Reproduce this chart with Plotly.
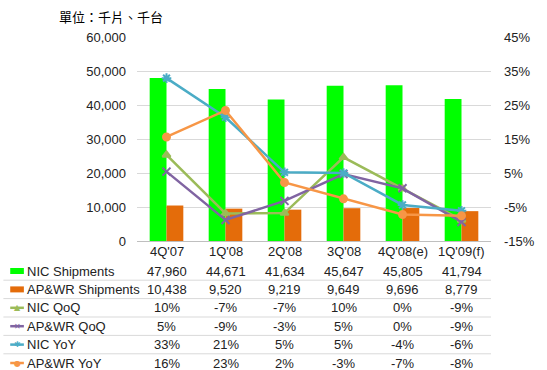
import plotly.graph_objects as go

categories = ["4Q'07", "1Q'08", "2Q'08", "3Q'08", "4Q'08(e)", "1Q'09(f)"]
nic_ship = [47960, 44671, 41634, 45647, 45805, 41794]
apwr_ship = [10438, 9520, 9219, 9649, 9696, 8779]
nic_qoq = [10.3, -6.9, -6.8, 9.6, 0.4, -8.8]
apwr_qoq = [5.4, -8.8, -3.2, 4.7, 0.5, -9.4]
nic_yoy = [32.9, 21.4, 5.2, 5.0, -4.4, -6.1]
apwr_yoy = [15.6, 23.4, 2.2, -2.6, -7.2, -7.6]

left_ticks = [0, 10000, 20000, 30000, 40000, 50000, 60000]
right_ticks = [-15, -5, 5, 15, 25, 35, 45]

W, H = 547, 370
L, R, T, B = 137, 47, 37, 129
PW, PH = W - L - R, H - T - B

def px(x):
    return (x - L) / PW

def py(y):
    return (H - B - y) / PH

FONT = "Liberation Sans, Arial, sans-serif"
GREEN = "#00FF00"
ORANGE_BAR = "#E46C0A"
C_NQ = "#9BBB59"
C_AQ = "#8064A2"
C_NY = "#4BACC6"
C_AY = "#F79646"
TXT = "#222222"

fig = go.Figure()
fig.add_trace(go.Bar(x=categories, y=nic_ship, name="NIC Shipments",
                     marker=dict(color=GREEN, line=dict(width=0))))
fig.add_trace(go.Bar(x=categories, y=apwr_ship, name="AP&WR Shipments",
                     marker=dict(color=ORANGE_BAR, line=dict(width=0))))

line_series = [
    ("NIC QoQ", nic_qoq, C_NQ, "triangle-up", 7),
    ("AP&WR QoQ", apwr_qoq, C_AQ, "x-thin-open", 8),
    ("NIC YoY", nic_yoy, C_NY, "asterisk-open", 8),
    ("AP&WR YoY", apwr_yoy, C_AY, "circle", 7),
]
for name, vals, col, sym, sz in line_series:
    fig.add_trace(go.Scatter(x=categories, y=vals, name=name, yaxis="y2",
                             mode="lines+markers",
                             line=dict(color=col, width=2.5),
                             marker=dict(symbol=sym, size=sz, color=col,
                                         line=dict(color=col, width=2))))

fig.update_layout(
    width=W, height=H,
    margin=dict(l=L, r=R, t=T, b=B, pad=0),
    paper_bgcolor="white", plot_bgcolor="white",
    showlegend=False,
    barmode="group", bargap=0.43, bargroupgap=0,
    font=dict(family=FONT, size=13, color=TXT),
    xaxis=dict(type="category", showgrid=False, showline=True,
               linecolor="#BFBFBF", linewidth=1, ticks="",
               showticklabels=False),
    yaxis=dict(range=[0, 60000], tickvals=left_ticks, tickformat=",",
               showgrid=True, gridcolor="#D9D9D9", gridwidth=1,
               zeroline=False, showline=False, ticks="",
               ticklabelstandoff=10,
               tickfont=dict(size=13, color=TXT)),
    yaxis2=dict(range=[-15, 45], tickvals=right_ticks,
                ticktext=[f"{v}%" for v in right_ticks],
                overlaying="y", side="right", showgrid=False,
                zeroline=False, showline=False, ticks="",
                ticklabelstandoff=12,
                tickfont=dict(size=13, color=TXT)),
)

# title
fig.add_annotation(text="單位：千片、千台", xref="paper", yref="paper",
                   x=px(55), y=py(17), xanchor="left", yanchor="middle",
                   showarrow=False,
                   font=dict(family="Noto Sans CJK TC", size=13, color="#000000"))

# category labels
for c in categories:
    fig.add_annotation(text=c, xref="x", yref="paper", x=c, y=py(251),
                       xanchor="center", yanchor="middle", showarrow=False,
                       font=dict(size=13, color=TXT))

# data table
row_labels = ["NIC Shipments", "AP&WR Shipments", "NIC QoQ", "AP&WR QoQ",
              "NIC YoY", "AP&WR YoY"]
row_vals = [
    [f"{v:,}" for v in nic_ship],
    [f"{v:,}" for v in apwr_ship],
    [f"{round(v)}%" for v in nic_qoq],
    [f"{round(v)}%" for v in apwr_qoq],
    [f"{round(v)}%" for v in nic_yoy],
    [f"{round(v)}%" for v in apwr_yoy],
]
row_y0 = 271
row_h = 18.4
for i, (lab, vals) in enumerate(zip(row_labels, row_vals)):
    yc = row_y0 + i * row_h
    fig.add_annotation(text=lab, xref="paper", yref="paper", x=px(22),
                       y=py(yc), xanchor="left", yanchor="middle",
                       showarrow=False, font=dict(size=13, color=TXT))
    for c, v in zip(categories, vals):
        fig.add_annotation(text=v, xref="x", yref="paper", x=c, y=py(yc),
                           xanchor="center", yanchor="middle", showarrow=False,
                           font=dict(size=13, color=TXT))
    sep = yc + row_h / 2
    if i < 5:
        fig.add_shape(type="line", xref="paper", yref="paper",
                      x0=px(0), x1=1, y0=py(sep), y1=py(sep),
                      line=dict(color="#D9D9D9", width=1))
    if i < 2:
        col = GREEN if i == 0 else ORANGE_BAR
        fig.add_shape(type="rect", xref="paper", yref="paper",
                      x0=px(7), x1=px(21), y0=py(yc - 3), y1=py(yc + 3),
                      fillcolor=col, line=dict(width=0))
    else:
        _, _, col, sym, _ = line_series[i - 2]
        fig.add_shape(type="line", xref="paper", yref="paper",
                      x0=px(7), x1=px(21), y0=py(yc), y1=py(yc),
                      line=dict(color=col, width=2.5))
        glyph = {"triangle-up": "▲", "x-thin-open": "✕",
                 "asterisk-open": "✱", "circle": "●"}[sym]
        fig.add_annotation(text=glyph, xref="paper", yref="paper",
                           x=px(14), y=py(yc), xanchor="center",
                           yanchor="middle", showarrow=False,
                           font=dict(family="DejaVu Sans", size=8, color=col))

fig.write_html("out.html",
               config={"displayModeBar": False},
               post_script="document.body.style.margin='0';"
                           "document.body.style.overflow='hidden';")
